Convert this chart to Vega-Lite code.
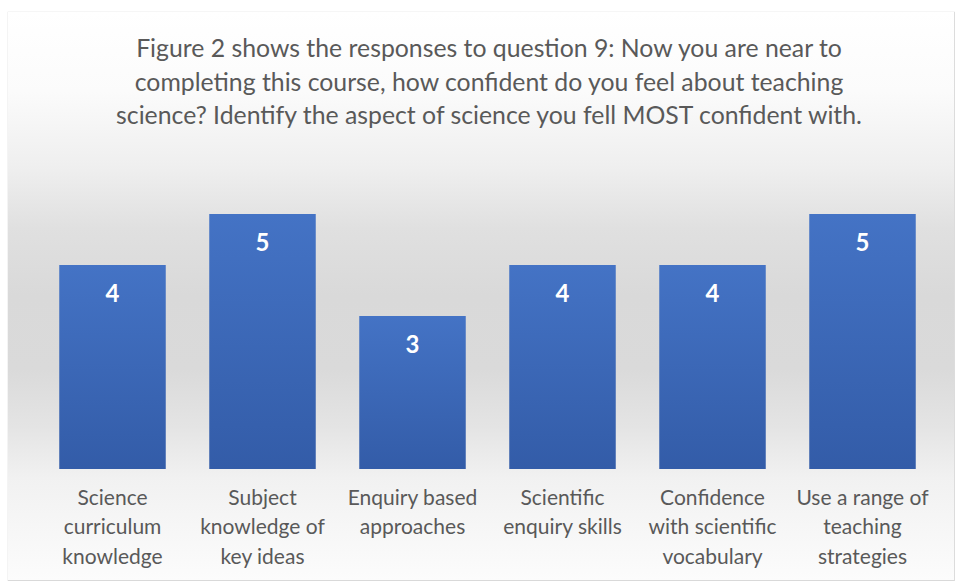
{
  "$schema": "https://vega.github.io/schema/vega-lite/v6.json",
  "width": 946,
  "height": 568,
  "autosize": {"type": "none"},
  "padding": {"left": 8, "top": 12, "right": 1, "bottom": 1},
  "background": "#ffffff",
  "config": {"font": "Lato", "view": {"stroke": "#d9d9d9", "strokeWidth": 1.2}},
  "title": {
    "text": [
      "Figure 2 shows the responses to question 9: Now you are near to",
      "completing this course, how confident do you feel about teaching",
      "science? Identify the aspect of science you fell MOST confident with."
    ],
    "orient": "top",
    "anchor": "middle",
    "frame": "group",
    "font": "Lato",
    "fontSize": 24.8,
    "fontWeight": "normal",
    "color": "#595959",
    "lineHeight": 33.5,
    "baseline": "top",
    "offset": -117,
    "dx": 8
  },
  "data": {
    "values": [
      {"aspect": "Science curriculum knowledge", "count": 4},
      {"aspect": "Subject knowledge of key ideas", "count": 5},
      {"aspect": "Enquiry based approaches", "count": 3},
      {"aspect": "Scientific enquiry skills", "count": 4},
      {"aspect": "Confidence with scientific vocabulary", "count": 4},
      {"aspect": "Use a range of teaching strategies", "count": 5}
    ]
  },
  "layer": [
    {
      "mark": {
        "type": "rect",
        "fill": {
          "gradient": "linear", "x1": 0, "y1": 0, "x2": 0, "y2": 1,
          "stops": [
            {"offset": 0, "color": "#ffffff"},
            {"offset": 0.14, "color": "#fbfbfb"},
            {"offset": 0.28, "color": "#eeeeee"},
            {"offset": 0.38, "color": "#e0e0e0"},
            {"offset": 0.5, "color": "#d9d9d9"},
            {"offset": 0.63, "color": "#dadada"},
            {"offset": 0.73, "color": "#e4e4e4"},
            {"offset": 0.82, "color": "#f1f1f1"},
            {"offset": 1, "color": "#fcfcfc"}
          ]
        }
      },
      "encoding": {}
    },
    {
      "mark": {
        "type": "bar",
        "fill": {
          "gradient": "linear", "x1": 0, "y1": 0, "x2": 0, "y2": 1,
          "stops": [
            {"offset": 0, "color": "#4473c5"},
            {"offset": 1, "color": "#335ca8"}
          ]
        }
      },
      "encoding": {
        "x": {
          "field": "aspect",
          "type": "nominal",
          "sort": null,
          "scale": {"range": [29.5, 929.5], "paddingInner": 0.29, "paddingOuter": 0.145},
          "axis": {
            "title": null,
            "domain": false,
            "ticks": false,
            "grid": false,
            "zindex": 2,
            "offset": -93,
            "labelPadding": 0,
            "labelAngle": 0,
            "labelBaseline": "top",
            "labelFont": "Lato",
            "labelFontSize": 21,
            "labelColor": "#595959",
            "labelLineHeight": 29.5,
            "labelOverlap": false,
            "labelBound": false,
            "labelFlush": false,
            "labelLimit": 0,
            "labelExpr": "datum.value == 'Science curriculum knowledge' ? ['Science', 'curriculum', 'knowledge'] : datum.value == 'Subject knowledge of key ideas' ? ['Subject', 'knowledge of', 'key ideas'] : datum.value == 'Enquiry based approaches' ? ['Enquiry based', 'approaches'] : datum.value == 'Scientific enquiry skills' ? ['Scientific', 'enquiry skills'] : datum.value == 'Confidence with scientific vocabulary' ? ['Confidence', 'with scientific', 'vocabulary'] : ['Use a range of', 'teaching', 'strategies']"
          }
        },
        "y": {
          "field": "count",
          "type": "quantitative",
          "scale": {"domain": [-2.176, 8.961], "nice": false, "zero": false},
          "axis": null
        }
      }
    },
    {
      "mark": {
        "type": "text",
        "baseline": "middle",
        "align": "center",
        "dy": 30,
        "color": "#ffffff",
        "font": "Lato",
        "fontWeight": "bold",
        "fontSize": 24
      },
      "encoding": {
        "x": {"field": "aspect", "type": "nominal", "sort": null},
        "y": {"field": "count", "type": "quantitative"},
        "text": {"field": "count", "type": "quantitative"}
      }
    }
  ]
}
